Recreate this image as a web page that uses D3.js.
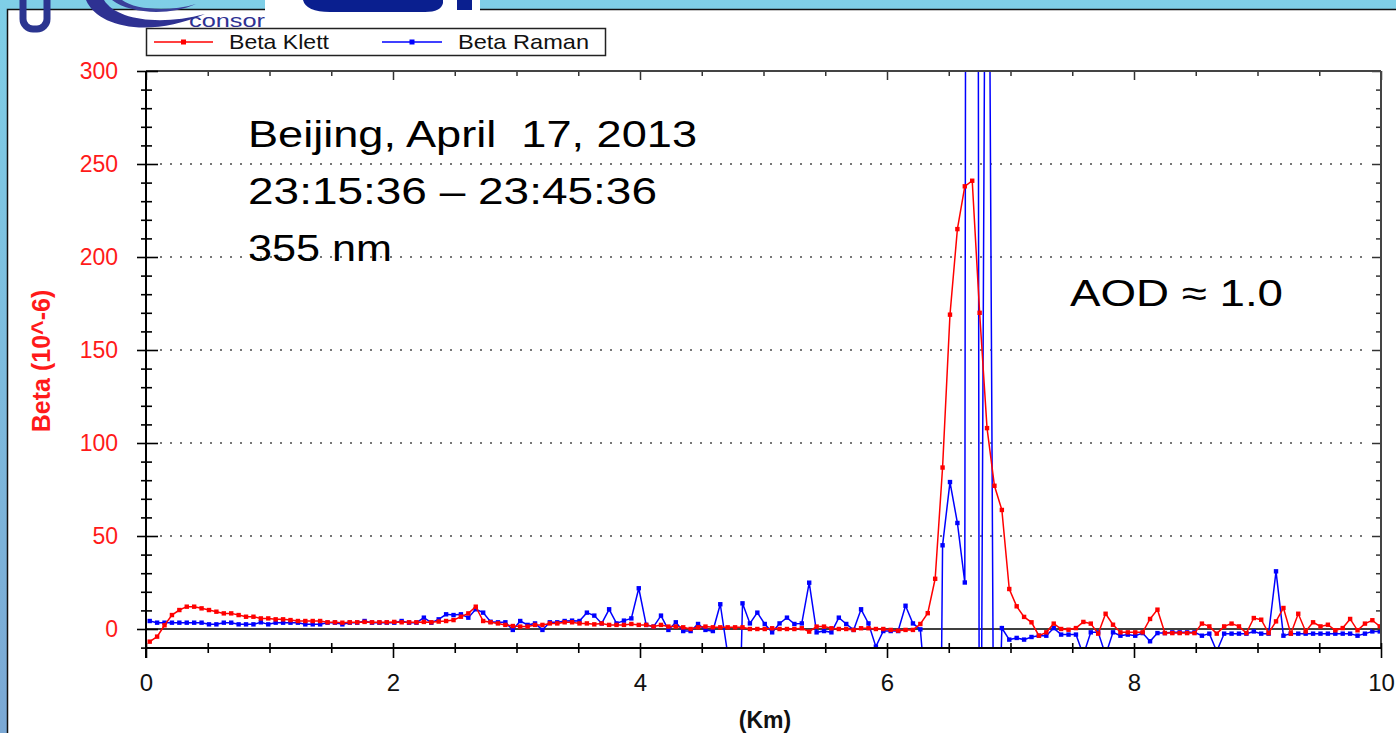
<!DOCTYPE html>
<html lang="en">
<head>
<meta charset="utf-8">
<script src="https://cdn.jsdelivr.net/npm/d3@7"></script>
<style>
  html, body { margin: 0; padding: 0; background: #fff; overflow: hidden; }
  text { font-family: "Liberation Sans", Arial, sans-serif; }
</style>
</head>
<body>
<div id="chart"></div>
<script>
  // ---- data ----
  const seriesNames = ["Beta Klett", "Beta Raman"];
  const seriesColors = ["#ff0000", "#0000ff"];
  const xMajor = [0, 2, 4, 6, 8, 10];
  const yMajor = [0, 50, 100, 150, 200, 250, 300];
  const gridValues = [50, 100, 150, 200, 250];
  const annotationLines = ["Beijing, April\u00a0 17, 2013", "23:15:36 \u2013 23:45:36", "355 nm"];
  const aodLabel = "AOD \u2248 1.0";

  // range bins of the profile: first bin centre and bin size (km)
  const binStart = 0.03;
  const binSize = 0.06;

  const betaKlett = [
    -6.8, -4.1, 2.0, 7.5, 10.2, 12.0, 12.0, 11.1, 10.2, 9.3,
    8.4, 8.4, 7.5, 6.6, 6.6, 5.7, 5.7, 5.2, 5.2, 4.8,
    4.3, 4.3, 4.3, 4.3, 3.6, 3.6, 3.4, 3.6, 3.6, 3.8,
    3.6, 3.6, 3.6, 3.8, 3.6, 3.6, 3.6, 3.8, 3.6, 4.0,
    4.3, 4.8, 6.6, 8.4, 12.0, 4.3, 3.6, 3.0, 2.2, 1.6,
    1.3, 1.3, 2.2, 2.2, 3.0, 3.0, 3.6, 3.6, 3.0, 3.0,
    2.5, 3.0, 2.2, 2.2, 2.2, 2.7, 2.2, 2.2, 1.3, 2.2,
    1.3, 1.3, 0.9, 0.0, 0.9, 1.3, 0.9, 0.9, 0.9, 0.9,
    0.9, 0.0, 0.0, 0.0, 0.4, 0.0, 0.0, 0.0, 0.4, -1.4,
    1.3, 1.3, 0.4, 0.0, 0.0, -0.5, 0.4, 0.4, 0.0, 0.0,
    -0.5, -0.9, -0.5, -0.5, 2.7, 8.5, 27, 86.8, 169, 215,
    238, 241, 170, 108, 77, 64, 21.5, 12.2, 6.5, 3.6,
    -3.6, -1.8, 2.9, 0.0, -0.4, 0.5, 3.8, 2.9, -2.5, 8.2,
    2.3, -1.8, -1.8, -1.8, -1.8, 5.4, 10.4, -2.2, -2.2, -2.2,
    -2.2, -2.2, 2.9, 1.4, -2.5, 1.4, 2.9, 1.4, -2.2, 5.9,
    5.0, -2.2, 4.1, 11.3, -2.5, 8.2, -1.3, 3.6, 1.4, 2.3,
    -0.7, 0.5, 5.4, -0.7, 2.9, 4.7, 1.4
  ];

  const betaRaman = [
    4.3, 3.4, 3.4, 3.4, 3.4, 3.4, 3.4, 3.4, 2.5, 2.5,
    3.4, 3.4, 2.5, 2.5, 2.5, 3.6, 2.5, 3.4, 3.4, 3.4,
    3.4, 2.5, 2.5, 2.5, 3.4, 3.4, 2.5, 3.4, 3.4, 4.3,
    3.4, 3.4, 3.4, 3.4, 4.3, 3.4, 3.4, 6.1, 3.4, 5.2,
    7.9, 7.5, 7.9, 6.1, 10.6, 8.8, 3.9, 3.6, 3.6, -0.5,
    4.3, 2.2, 3.0, -0.5, 3.6, 3.6, 4.3, 4.5, 4.3, 8.8,
    7.2, 3.0, 10.6, 3.0, 4.5, 5.7, 21.9, 2.2, 1.3, 7.2,
    -0.5, 3.6, -1.1, -1.1, 2.7, -0.5, -1.1, 13.3, -13.4, -150,
    13.8, 3.0, 8.8, 2.7, -1.8, 3.0, 6.1, 2.7, 3.0, 24.9,
    -1.8, -1.1, -1.8, 6.1, 2.7, -0.5, 10.6, 3.0, -9.5, -1.1,
    -1.1, -1.1, 12.5, 3.0, -0.2, -47, -400, 45, 79, 57,
    25, 3000, -250, 600, -150, 0.5, -5.7, -4.8, -5.7, -4.3,
    -3.6, -3.6, 0.5, -3.0, -3.0, -3.0, -14, -1.8, -1.8, -14,
    -1.8, -3.6, -3.0, -3.6, -2.2, -6.6, -2.2, -2.2, -1.8, -1.8,
    -1.8, -1.8, -3.6, -2.5, -12, -2.5, -2.5, -2.5, -2.5, -1.3,
    -2.5, -2.5, 31, -3.6, -2.5, -2.5, -2.5, -2.5, -2.5, -2.5,
    -2.5, -2.5, -2.5, -3.6, -2.5, -1.3, -1.3
  ];

  const altitude = betaKlett.map((_, i) => +(binStart + i * binSize).toFixed(2));
  const series = [
    { name: seriesNames[1], color: seriesColors[1], values: betaRaman },
    { name: seriesNames[0], color: seriesColors[0], values: betaKlett }
  ];

  // ---- canvas ----
  const svg_width = 1396;
  const svg_height = 733;
  const plotLeft = 146, plotRight = 1381, plotTop = 71, plotBottom = 648;

  const svg = d3.select("#chart")
    .append("svg")
    .attr("width", svg_width)
    .attr("height", svg_height);

  const defs = svg.append("defs");
  const bg = defs.append("linearGradient").attr("id", "bgGrad")
    .attr("x1", 0).attr("y1", 0).attr("x2", 0).attr("y2", 1);
  bg.append("stop").attr("offset", "0%").attr("stop-color", "#7fcfe7");
  bg.append("stop").attr("offset", "100%").attr("stop-color", "#7ba8d4");

  defs.append("clipPath").attr("id", "plotClip")
    .append("rect")
    .attr("x", plotLeft).attr("y", plotTop)
    .attr("width", plotRight - plotLeft).attr("height", plotBottom - plotTop);

  // slide background + white panel
  svg.append("rect").attr("width", svg_width).attr("height", svg_height).attr("fill", "url(#bgGrad)");
  svg.append("rect")
    .attr("x", 7.5).attr("y", 9.5)
    .attr("width", svg_width + 20).attr("height", svg_height + 20)
    .attr("fill", "#fff").attr("stroke", "#111").attr("stroke-width", 1.5);

  // logo fragments at the top left
  const logo = svg.append("g");
  logo.append("rect")
    .attr("x", 23).attr("y", -14).attr("width", 24).attr("height", 43).attr("rx", 10)
    .attr("fill", "none").attr("stroke", "#2b3590").attr("stroke-width", 7);
  logo.append("path")
    .attr("d", "M86,0 C98,28 150,38 205,14 C160,26 116,20 104,0 Z")
    .attr("fill", "#2e3192");
  logo.append("path")
    .attr("d", "M112,0 C130,14 170,16 196,4 C170,12 135,10 122,0 Z")
    .attr("fill", "#3a3f9a");
  logo.append("text")
    .attr("x", 189).attr("y", 27)
    .attr("font-family", "DejaVu Sans, sans-serif")
    .attr("font-size", 19)
    .attr("textLength", 76).attr("lengthAdjust", "spacingAndGlyphs")
    .attr("fill", "#2e3192")
    .text("consor");
  logo.append("rect").attr("x", 265).attr("y", 0).attr("width", 215).attr("height", 11).attr("fill", "#fff");
  logo.append("path")
    .attr("d", "M303,0 L443,0 L443,3 Q441,12 425,12 L330,12 Q306,12 303,0 Z")
    .attr("fill", "#0a1f8f");
  logo.append("rect").attr("x", 457).attr("y", 0).attr("width", 15).attr("height", 10).attr("fill", "#0a1f8f");

  // ---- scales ----
  const x = d3.scaleLinear().domain([0, 10]).range([plotLeft, plotRight]);
  const y = d3.scaleLinear().domain([0, 300]).range([629, plotTop]);

  const xMinor = d3.range(0, 10.01, 0.5).filter(v => !xMajor.includes(v));
  const yMinor = d3.range(-10, 301, 10).filter(v => !yMajor.includes(v) && y(v) <= plotBottom);

  // dotted grid
  svg.append("g")
    .selectAll("line")
    .data(gridValues)
    .join("line")
    .attr("x1", plotLeft + 14).attr("x2", plotRight - 12)
    .attr("y1", d => y(d)).attr("y2", d => y(d))
    .attr("stroke", "#777").attr("stroke-width", 2)
    .attr("stroke-dasharray", "2 8");

  // zero line
  svg.append("line")
    .attr("x1", plotLeft).attr("x2", plotRight)
    .attr("y1", y(0)).attr("y2", y(0))
    .attr("stroke", "#000").attr("stroke-width", 1.6);

  // ---- data ----
  const lineGen = d3.line()
    .x((d, i) => x(altitude[i]))
    .y(d => y(d));

  const dataLayer = svg.append("g").attr("clip-path", "url(#plotClip)");
  series.forEach(s => {
    dataLayer.append("path")
      .datum(s.values)
      .attr("d", lineGen)
      .attr("fill", "none")
      .attr("stroke", s.color)
      .attr("stroke-width", 1.5);
    dataLayer.append("g")
      .selectAll("rect")
      .data(s.values)
      .join("rect")
      .attr("x", (d, i) => x(altitude[i]) - 2.2)
      .attr("y", d => y(d) - 2.2)
      .attr("width", 4.4).attr("height", 4.4)
      .attr("fill", s.color);
  });

  // ---- frame and axes ----
  // top and right borders with inward ticks
  svg.append("g")
    .attr("transform", `translate(0,${plotTop})`)
    .call(d3.axisTop(x).tickValues(xMajor).tickSize(-9).tickFormat(""))
    .call(g => g.select(".domain").remove())
    .call(g => g.selectAll("line").attr("stroke", "#333").attr("stroke-width", 1.5));
  svg.append("g")
    .attr("transform", `translate(0,${plotTop})`)
    .call(d3.axisTop(x).tickValues(xMinor).tickSize(-5).tickFormat(""))
    .call(g => g.select(".domain").remove())
    .call(g => g.selectAll("line").attr("stroke", "#333").attr("stroke-width", 1.5));
  svg.append("g")
    .attr("transform", `translate(${plotRight},0)`)
    .call(d3.axisRight(y).tickValues(yMajor).tickSize(-9).tickFormat(""))
    .call(g => g.select(".domain").remove())
    .call(g => g.selectAll("line").attr("stroke", "#333").attr("stroke-width", 1.5));
  svg.append("g")
    .attr("transform", `translate(${plotRight},0)`)
    .call(d3.axisRight(y).tickValues(yMinor).tickSize(-5).tickFormat(""))
    .call(g => g.select(".domain").remove())
    .call(g => g.selectAll("line").attr("stroke", "#333").attr("stroke-width", 1.5));
  svg.append("line")
    .attr("x1", plotLeft).attr("x2", plotRight).attr("y1", plotTop).attr("y2", plotTop)
    .attr("stroke", "#444").attr("stroke-width", 2);
  svg.append("line")
    .attr("x1", plotRight).attr("x2", plotRight).attr("y1", plotTop).attr("y2", plotBottom)
    .attr("stroke", "#444").attr("stroke-width", 2);

  // left axis
  svg.append("g")
    .attr("transform", `translate(${plotLeft},0)`)
    .call(d3.axisLeft(y).tickValues(yMajor).tickSize(9).tickPadding(19))
    .call(g => g.select(".domain").remove())
    .call(g => g.selectAll(".tick line").attr("x1", 12).attr("stroke", "#000").attr("stroke-width", 1.6))
    .call(g => g.selectAll(".tick text")
      .attr("fill", "#ff1a1a")
      .attr("font-size", 23)
      .attr("font-family", "Liberation Sans, Arial, sans-serif"));
  svg.append("g")
    .attr("transform", `translate(${plotLeft},0)`)
    .call(d3.axisLeft(y).tickValues(yMinor).tickSize(5).tickFormat(""))
    .call(g => g.select(".domain").remove())
    .call(g => g.selectAll(".tick line").attr("x1", 6).attr("stroke", "#000").attr("stroke-width", 1.6));
  svg.append("line")
    .attr("x1", plotLeft).attr("x2", plotLeft).attr("y1", plotTop).attr("y2", plotBottom + 10)
    .attr("stroke", "#000").attr("stroke-width", 2);

  // bottom axis
  svg.append("g")
    .attr("transform", `translate(0,${plotBottom})`)
    .call(d3.axisBottom(x).tickValues(xMajor).tickSize(10))
    .call(g => g.select(".domain").remove())
    .call(g => g.selectAll(".tick line").attr("y1", -5).attr("stroke", "#000").attr("stroke-width", 1.6))
    .call(g => g.selectAll(".tick text")
      .attr("y", 35).attr("dy", "0.35em")
      .attr("fill", "#111")
      .attr("font-size", 24)
      .attr("font-family", "Liberation Sans, Arial, sans-serif"));
  svg.append("g")
    .attr("transform", `translate(0,${plotBottom})`)
    .call(d3.axisBottom(x).tickValues(xMinor).tickSize(5).tickFormat(""))
    .call(g => g.select(".domain").remove())
    .call(g => g.selectAll(".tick line").attr("y1", -5).attr("stroke", "#000").attr("stroke-width", 1.6));
  svg.append("line")
    .attr("x1", plotLeft).attr("x2", plotRight).attr("y1", plotBottom).attr("y2", plotBottom)
    .attr("stroke", "#000").attr("stroke-width", 2.2);

  // axis titles
  svg.append("text")
    .attr("transform", `translate(50,361) rotate(-90)`)
    .attr("text-anchor", "middle")
    .attr("font-size", 25).attr("font-weight", "bold")
    .attr("fill", "#ff1a1a")
    .text("Beta (10^-6)");
  svg.append("text")
    .attr("x", 765).attr("y", 728)
    .attr("text-anchor", "middle")
    .attr("font-size", 23).attr("font-weight", "bold")
    .attr("fill", "#111")
    .text("(Km)");

  // ---- legend ----
  const legend = svg.append("g");
  legend.append("rect")
    .attr("x", 146.5).attr("y", 28.5).attr("width", 459).attr("height", 27)
    .attr("fill", "#fff").attr("stroke", "#222").attr("stroke-width", 1.5);
  const legendItems = [
    { name: seriesNames[0], color: seriesColors[0], x0: 154, x1: 213, tx: 229, w: 100 },
    { name: seriesNames[1], color: seriesColors[1], x0: 382, x1: 442, tx: 458, w: 131 }
  ];
  legendItems.forEach(item => {
    legend.append("line")
      .attr("x1", item.x0).attr("x2", item.x1).attr("y1", 42).attr("y2", 42)
      .attr("stroke", item.color).attr("stroke-width", 1.5);
    legend.append("rect")
      .attr("x", (item.x0 + item.x1) / 2 - 2.5).attr("y", 39.5)
      .attr("width", 5).attr("height", 5).attr("fill", item.color);
    legend.append("text")
      .attr("x", item.tx).attr("y", 42).attr("dy", "0.35em")
      .attr("font-size", 21).attr("fill", "#111")
      .attr("textLength", item.w).attr("lengthAdjust", "spacingAndGlyphs")
      .text(item.name);
  });

  // ---- annotations ----
  const noteWidths = [449, 409, 144];
  annotationLines.forEach((line, i) => {
    svg.append("text")
      .attr("x", 248).attr("y", 147 + i * 57)
      .attr("font-family", "Lato, 'Noto Sans', sans-serif")
      .attr("font-size", 37)
      .attr("fill", "#000")
      .attr("textLength", noteWidths[i]).attr("lengthAdjust", "spacingAndGlyphs")
      .style("white-space", "pre")
      .text(line);
  });
  svg.append("text")
    .attr("x", 1070).attr("y", 306)
    .attr("font-family", "Lato, 'Noto Sans', sans-serif")
    .attr("font-size", 37)
    .attr("fill", "#000")
    .attr("textLength", 213).attr("lengthAdjust", "spacingAndGlyphs")
    .text(aodLabel);
</script>
</body>
</html>
